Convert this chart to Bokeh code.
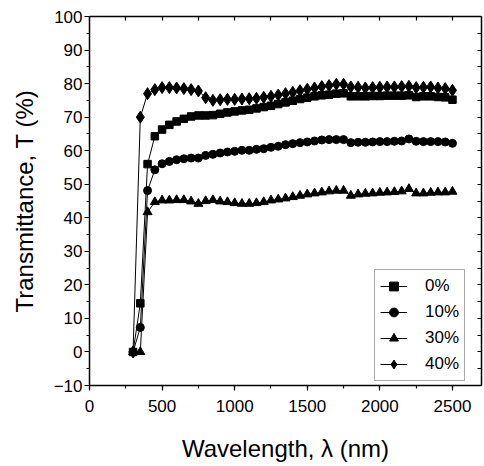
from bokeh.plotting import figure
from bokeh.models import Range1d, LinearAxis, FixedTicker, Legend, LegendItem
from bokeh.embed import file_html
from bokeh.resources import INLINE

wavelength = [300, 350, 400, 450, 500, 550, 600, 650, 700, 750, 800, 850, 900, 950,
              1000, 1050, 1100, 1150, 1200, 1250, 1300, 1350, 1400, 1450, 1500, 1550,
              1600, 1650, 1700, 1750, 1800, 1850, 1900, 1950, 2000, 2050, 2100, 2150,
              2200, 2250, 2300, 2350, 2400, 2450, 2500]

t_0 = [0, 14.5, 56.0, 64.3, 66.3, 67.7, 68.7, 69.5, 70.2, 70.5, 70.5, 70.6, 71.0, 71.4,
       71.7, 72.0, 72.2, 72.6, 73.0, 73.4, 73.9, 74.4, 74.9, 75.4, 75.8, 76.2,
       76.5, 76.7, 77.0, 77.1, 76.2, 76.2, 76.2, 76.3, 76.3, 76.4, 76.4, 76.4,
       76.5, 76.0, 76.2, 76.2, 76.0, 75.9, 75.2]

t_10 = [0, 7.3, 48.1, 54.3, 56.1, 56.8, 57.3, 57.6, 57.8, 57.8, 58.6, 58.9, 59.3, 59.6,
        59.8, 60.1, 60.1, 60.4, 60.6, 61.0, 61.3, 61.8, 62.1, 62.4, 62.6, 62.9,
        63.2, 63.3, 63.3, 63.3, 62.4, 62.5, 62.5, 62.6, 62.7, 62.7, 62.8, 62.9,
        63.5, 62.8, 62.7, 62.7, 62.7, 62.6, 62.2]

t_30 = [0, 0, 41.7, 44.7, 45.2, 45.2, 45.3, 45.3, 44.9, 44.2, 45.0, 45.3, 44.9, 44.7,
        44.4, 44.2, 44.2, 44.4, 44.7, 45.2, 45.5, 45.8, 46.2, 46.6, 47.0, 47.3,
        47.6, 47.9, 48.1, 48.1, 46.6, 47.0, 47.2, 47.3, 47.5, 47.6, 47.7, 47.9,
        48.6, 47.3, 47.3, 47.5, 47.6, 47.6, 47.8]

t_40 = [0, 70.0, 77.0, 78.2, 78.8, 78.8, 78.7, 78.5, 78.2, 77.8, 75.8, 75.0, 75.2, 75.3,
        75.3, 75.4, 75.5, 75.6, 75.9, 76.2, 76.6, 77.0, 77.4, 77.9, 78.3, 78.7,
        79.1, 79.4, 79.8, 79.8, 79.0, 78.9, 78.7, 78.8, 78.9, 79.0, 79.0, 79.1,
        79.2, 78.8, 78.9, 79.0, 78.7, 78.5, 78.0]

series_labels = ["0%", "10%", "30%", "40%"]
x_ticks = [0, 500, 1000, 1500, 2000, 2500]
x_minor = [0, 250, 500, 750, 1000, 1250, 1500, 1750, 2000, 2250, 2500]
y_ticks = [-10, 0, 10, 20, 30, 40, 50, 60, 70, 80, 90, 100]
y_minor = [-10, -5, 0, 5, 10, 15, 20, 25, 30, 35, 40, 45, 50, 55, 60, 65, 70, 75,
           80, 85, 90, 95, 100]

FONT = "Liberation Sans"

p = figure(width=484, height=466, output_backend="svg", toolbar_location=None,
           x_range=Range1d(0, 2700), y_range=Range1d(-10, 100),
           min_border_left=89, min_border_right=3, min_border_top=16, min_border_bottom=81,
           x_axis_location=None, y_axis_location=None)
p.grid.visible = False
p.outline_line_color = None
p.background_fill_color = "white"
p.border_fill_color = "white"

def style_axis(ax):
    ax.axis_line_color = "black"
    ax.axis_line_width = 1.5
    ax.major_tick_line_color = "black"
    ax.minor_tick_line_color = "black"
    ax.major_tick_line_width = 1.2
    ax.minor_tick_line_width = 1.2
    ax.major_tick_in = 0
    ax.major_tick_out = 5
    ax.minor_tick_in = 0
    ax.minor_tick_out = 3
    ax.major_label_text_font = FONT
    ax.major_label_text_font_size = "17px"
    ax.major_label_text_color = "black"
    ax.axis_label_text_font = FONT
    ax.axis_label_text_font_size = "24px"
    ax.axis_label_text_font_style = "normal"
    ax.axis_label_text_color = "black"

def style_mirror(ax):
    ax.axis_line_color = "black"
    ax.axis_line_width = 1.5
    ax.minor_tick_line_color = "black"
    ax.minor_tick_line_width = 1.2
    ax.minor_tick_in = 4
    ax.minor_tick_out = 0
    ax.major_tick_in = 0
    ax.major_tick_out = 0
    ax.major_label_standoff = 0

xb = LinearAxis(ticker=FixedTicker(ticks=x_ticks, minor_ticks=x_minor),
                axis_label="Wavelength, λ (nm)")
style_axis(xb)
xb.major_label_standoff = 9
xb.axis_label_standoff = 20
p.add_layout(xb, "below")

yl = LinearAxis(ticker=FixedTicker(ticks=y_ticks, minor_ticks=y_minor),
                axis_label="Transmittance, T (%)")
style_axis(yl)
yl.major_label_standoff = 2
yl.axis_label_standoff = 13
p.add_layout(yl, "left")

# mirrored frame axes: ticks only (minor ticks carry no labels)
xt = LinearAxis(ticker=FixedTicker(ticks=[], minor_ticks=x_minor))
style_mirror(xt)
p.add_layout(xt, "above")

yr = LinearAxis(ticker=FixedTicker(ticks=[], minor_ticks=y_minor))
style_mirror(yr)
p.add_layout(yr, "right")

series = [t_0, t_10, t_30, t_40]
markers = ["square", "circle", "triangle", "diamond"]
sizes = [7.5, 8, 9, 12]
items = []
for vals, mk, sz, lab in zip(series, markers, sizes, series_labels):
    r1 = p.line(wavelength, vals, line_color="black", line_width=1)
    r2 = p.scatter(wavelength, vals, marker=mk, size=sz, fill_color="black", line_color="black")
    items.append(LegendItem(label=lab, renderers=[r1, r2]))

legend = Legend(items=items, location=(285, 4))
legend.label_text_font = FONT
legend.label_text_font_size = "17px"
legend.label_text_color = "black"
legend.glyph_width = 27
legend.glyph_height = 22
legend.label_height = 22
legend.label_standoff = 18
legend.spacing = 4
legend.padding = 5
legend.margin = 0
legend.border_line_color = "#555555"
legend.border_line_width = 1
legend.background_fill_color = "white"
legend.background_fill_alpha = 1
p.add_layout(legend, "center")

open("out.html", "w").write(file_html(p, INLINE))
